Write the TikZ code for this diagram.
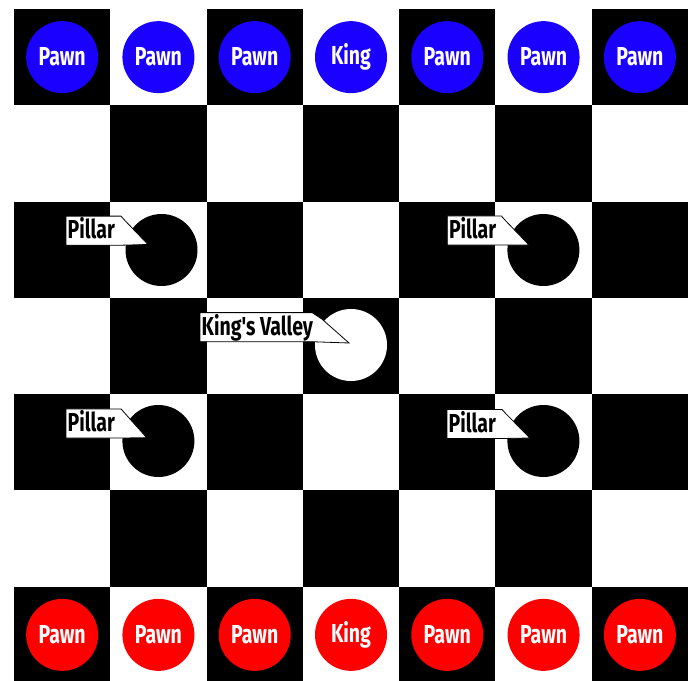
\documentclass[tikz,border=0pt]{standalone}
\usepackage{fontspec}
\newfontfamily\lblfont{Fira Sans}[FakeStretch=0.75]
\usetikzlibrary{calc}
\pgfdeclarelayer{fg}
\pgfsetlayers{main,fg}
\definecolor{pblue}{RGB}{26,0,255}
\definecolor{pred}{RGB}{255,0,0}
\tikzset{
  txt/.style={font=\lblfont\bfseries\fontsize{26}{26}\selectfont},
  piece/.style={circle, minimum size=72pt, inner sep=0pt, text=white, txt},
  pillar/.style={circle, minimum size=72pt, inner sep=0pt, fill=black},
  valley/.style={circle, minimum size=72pt, inner sep=0pt, fill=white},
  lbltext/.style={txt, text=black, inner sep=0pt, anchor=base west},
  lblbox/.style={draw=black, line width=0.8pt, fill=white, line join=miter}
}
% #1 label node, #2 box width, #3 notch offset, #4 pointer tip
\newcommand\calloutoutline[4]{%
  \draw[lblbox] ($(#1.base west)+(-1.5,-22.6)$) -- ($(#1.base west)+(#2-1.5,-22.6)$)
    -- ($(#1.base west)+(#2-1.5,-22.6)+#3$) -- #4
    -- ($(#1.base west)+(#2-1.5,6.5)$) -- ($(#1.base west)+(-1.5,6.5)$) -- cycle;}
\begin{document}
\begin{tikzpicture}[x=1pt,y=-1pt]
\useasboundingbox (0,0) rectangle (693,680);
\def\s{96.286}
\begin{scope}
\clip (0,0) rectangle (693,680);
\foreach \r in {0,...,6}{
  \foreach \c in {0,...,6}{
    \pgfmathtruncatemacro{\pp}{mod(\r+\c,2)}
    \ifnum\pp=0 \fill[black] ({14+\c*\s},{9+\r*\s}) rectangle ++(\s,\s);\fi
  }
}
\end{scope}
% pieces
\foreach \c/\t in {0/Pawn,1/Pawn,2/Pawn,3/King,4/Pawn,5/Pawn,6/Pawn}{
  \node[piece, fill=pblue] (b\c) at ({14+(\c+0.5)*\s},{9+0.5*\s}) {\t};
  \node[piece, fill=pred] (r\c) at ({14+(\c+0.5)*\s},{9+6.5*\s}) {\t};
}
% pillars and valley
\node[pillar] (p1) at (161.5,250) {};
\node[pillar] (p2) at (543.4,250) {};
\node[pillar] (p3) at (158.4,441) {};
\node[pillar] (p4) at (543.4,441) {};
\node[valley] (kv) at (351,345) {};
% labels
\begin{pgfonlayer}{fg}
\node[lbltext] (l1) at (67.5,238.7) {Pillar};
\node[lbltext] (l2) at (448.8,238.5) {Pillar};
\node[lbltext] (l3) at (67.5,431.5) {Pillar};
\node[lbltext] (l4) at (448.5,432) {Pillar};
\node[lbltext] (l5) at (201.5,335.2) {King's Valley};
\end{pgfonlayer}
\calloutoutline{l1}{55}{(4,4.5)}{($(p1)+(-13.5,-5.5)$)}
\calloutoutline{l2}{54}{(4,4.5)}{($(p2)+(-14.4,-5)$)}
\calloutoutline{l3}{55}{(4,4.5)}{($(p3)+(-11.7,-3.3)$)}
\calloutoutline{l4}{55}{(4,4.5)}{($(p4)+(-13.4,-3)$)}
\calloutoutline{l5}{112}{(10,6.5)}{($(kv)+(-2,-2)$)}
\end{tikzpicture}
\end{document}
